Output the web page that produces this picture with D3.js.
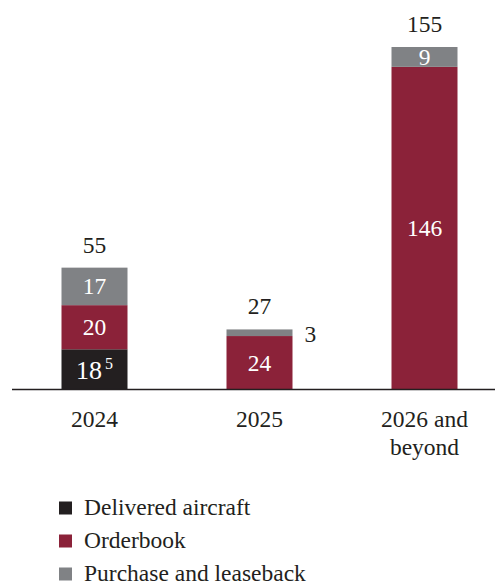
<!DOCTYPE html>
<html>
<head>
<meta charset="utf-8">
<script src="https://cdn.jsdelivr.net/npm/d3@7.9.0/dist/d3.min.js"></script>
<style>
  body { margin: 0; background: #fff; }
</style>
</head>
<body>
<svg width="495" height="584" font-family="'Liberation Serif', 'Times New Roman', serif"></svg>
<script>
const categories = ['2024', '2025', '2026 and beyond'];
const seriesNames = ['Delivered aircraft', 'Orderbook', 'Purchase and leaseback'];
const delivered = [18, 0, 0];
const orderbook = [20, 24, 146];
const leaseback = [17, 3, 9];
const totals = [55, 27, 155];
const colors = ['#231f20', '#8b2239', '#808285'];

const svg = d3.select('svg');
const baseY = 389;
const fs = 23.5;

const rows = categories.map((c, i) => ({
  cat: c,
  'Delivered aircraft': delivered[i],
  'Orderbook': orderbook[i],
  'Purchase and leaseback': leaseback[i]
}));

let stack = d3.stack().keys(seriesNames)(rows);

let x = d3.scaleBand().domain(categories).range([12, 507]).paddingInner(0.6).paddingOuter(0.3);
let y = d3.scaleLinear().domain([0, 155]).range([baseY, 47]);

// bars
stack.forEach((layer, si) => {
  svg.append('g')
    .selectAll('rect')
    .data(layer.filter(d => d[1] > d[0]))
    .join('rect')
    .attr('x', d => x(d.data.cat))
    .attr('width', x.bandwidth())
    .attr('y', d => y(d[1]))
    .attr('height', d => y(d[0]) - y(d[1]))
    .attr('fill', colors[si]);
});

// labels inside segments
stack.forEach((layer) => {
  layer.forEach((d, i) => {
    let v = d[1] - d[0];
    if (v < 5) return;
    let isFoot = layer.key === 'Delivered aircraft' && i === 0;
    let t = svg.append('text')
      .attr('x', x(d.data.cat) + x.bandwidth() / 2)
      .attr('y', (y(d[0]) + y(d[1])) / 2 + (isFoot ? 10 : 8))
      .attr('text-anchor', 'middle')
      .attr('fill', '#fff')
      .attr('font-size', isFoot ? 26 : fs)
      .text(v);
    if (isFoot) {
      // footnote marker
      t.append('tspan').attr('font-size', 16).attr('dy', -10).attr('dx', 3).text('5');
    }
  });
});

// small segment label beside bar
svg.append('text')
  .attr('x', x('2025') + x.bandwidth() + 12)
  .attr('y', y(27) + 13)
  .attr('fill', '#231f20')
  .attr('font-size', fs)
  .text(leaseback[1]);

// totals
categories.forEach((c, i) => {
  svg.append('text')
    .attr('x', x(c) + x.bandwidth() / 2)
    .attr('y', y(totals[i]) - 15)
    .attr('text-anchor', 'middle')
    .attr('fill', '#231f20')
    .attr('font-size', fs)
    .text(totals[i]);
});

// axis line
svg.append('line')
  .attr('x1', 12).attr('x2', 495)
  .attr('y1', baseY + 0.5).attr('y2', baseY + 0.5)
  .attr('stroke', '#231f20').attr('stroke-width', 1.5);

// category labels
const catLines = [['2024'], ['2025'], ['2026 and', 'beyond']];
categories.forEach((c, i) => {
  let t = svg.append('text')
    .attr('x', x(c) + x.bandwidth() / 2)
    .attr('y', 427)
    .attr('text-anchor', 'middle')
    .attr('fill', '#231f20')
    .attr('font-size', fs);
  catLines[i].forEach((l, j) => {
    t.append('tspan')
      .attr('x', x(c) + x.bandwidth() / 2)
      .attr('dy', j === 0 ? 0 : 28)
      .text(l);
  });
});

// legend
seriesNames.forEach((s, i) => {
  let ly = 514.5 + i * 33;
  svg.append('rect')
    .attr('x', 59).attr('y', ly - 13)
    .attr('width', 13).attr('height', 13)
    .attr('fill', colors[i]);
  svg.append('text')
    .attr('x', 84).attr('y', ly)
    .attr('fill', '#231f20')
    .attr('font-size', fs)
    .text(s);
});
</script>
</body>
</html>
